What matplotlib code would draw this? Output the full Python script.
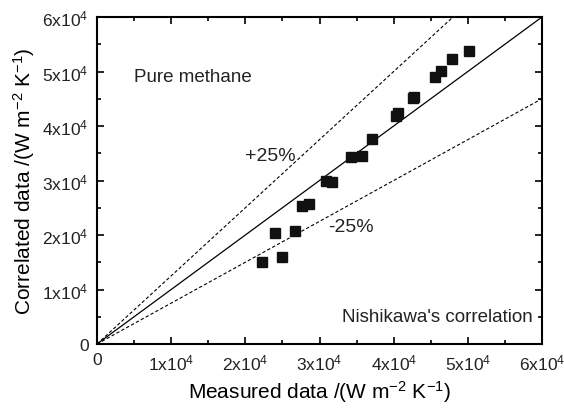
import matplotlib
matplotlib.use("Agg")
import matplotlib.pyplot as plt
import numpy as np

plt.rcParams['font.family'] = ['Liberation Sans', 'DejaVu Sans']
plt.rcParams['mathtext.fontset'] = 'custom'
plt.rcParams['mathtext.rm'] = 'Liberation Sans'
plt.rcParams['mathtext.it'] = 'Liberation Sans:italic'
plt.rcParams['text.color'] = '#222222'

# measured vs correlated heat transfer coefficient (W m-2 K-1)
measured = [22200, 24000, 25000, 26700, 27600, 28600, 30900, 31700, 34200, 35700,
            37100, 40300, 40600, 42600, 42700, 45600, 46400, 47800, 50100]
correlated = [15000, 20400, 16000, 20700, 25300, 25600, 29900, 29700, 34300, 34500,
              37600, 41800, 42400, 45200, 45400, 49000, 50100, 52300, 53800]

ticks = [0, 10000, 20000, 30000, 40000, 50000, 60000]
tick_labels = ['0', r'1x10$^4$', r'2x10$^4$', r'3x10$^4$', r'4x10$^4$', r'5x10$^4$', r'6x10$^4$']

fig = plt.figure(figsize=(5.64, 4.10), dpi=100)
ax = fig.add_axes([97/564, 65/410, 445/564, 327/410])

xx = np.array([0, 60000])
ax.plot(xx, xx, color='black', lw=0.9)
ax.plot(xx, 1.25 * xx, color='black', lw=0.8, ls=(0, (3, 2)))
ax.plot(xx, 0.75 * xx, color='black', lw=0.8, ls=(0, (3, 2)))

ax.plot(measured, correlated, ls='none', marker='s', ms=6.5, color='#111111')

ax.set_xlim(0, 60000)
ax.set_ylim(0, 60000)
ax.set_xticks(ticks)
ax.set_yticks(ticks)
ax.set_xticklabels(tick_labels)
ax.set_yticklabels(tick_labels)
ax.set_xticks(np.arange(5000, 60000, 10000), minor=True)
ax.set_yticks(np.arange(5000, 60000, 10000), minor=True)
ax.tick_params(which='both', direction='in', top=True, right=True, labelsize=12.5, pad=6,
               labelcolor='#222222')
ax.tick_params(which='major', length=5, width=1.2)
ax.tick_params(which='minor', length=3, width=1.2)
for s in ax.spines.values():
    s.set_linewidth(1.5)

ax.set_xlabel(r'Measured data /(W m$^{-2}$ K$^{-1}$)', fontsize=15, labelpad=4)
ax.set_ylabel(r'Correlated data /(W m$^{-2}$ K$^{-1}$)', fontsize=15, labelpad=4)

ax.text(5000, 48300, 'Pure methane', fontsize=13.5)
ax.text(20000, 34500, '+25%', fontsize=14, va='center')
ax.text(31100, 21500, '-25%', fontsize=14, va='center')
ax.text(58700, 5000, "Nishikawa's correlation", fontsize=13.5, ha='right', va='center')

fig.savefig('out.png', dpi=100)
